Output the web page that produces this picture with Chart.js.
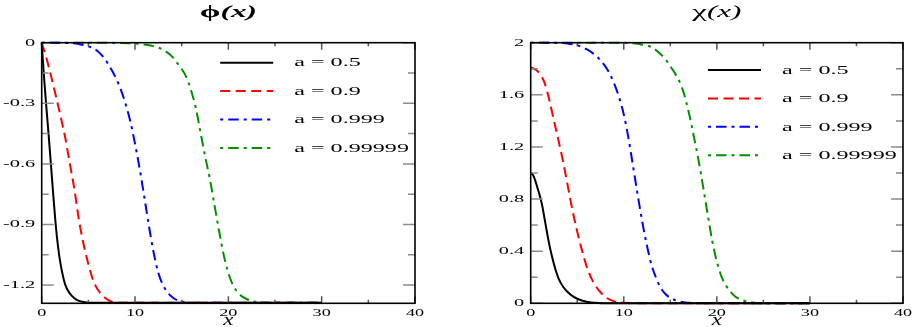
<!DOCTYPE html>
<html>
<head>
<meta charset="utf-8">
<script src="https://cdn.jsdelivr.net/npm/chart.js@4/dist/chart.umd.min.js"></script>
<style>
  html, body { margin: 0; padding: 0; background: #fff; }
  #wrap { position: relative; width: 915px; height: 327px; }
  canvas { position: absolute; top: 0; }
</style>
</head>
<body>
<div id="wrap">
  <canvas id="phi" width="460" height="327" style="left:0"></canvas>
  <canvas id="chi" width="455" height="327" style="left:460px"></canvas>
</div>
<script>
// ---------- data ----------
const seriesLabels = ['a = 0.5', 'a = 0.9', 'a = 0.999', 'a = 0.99999'];

// phi(x)
const phiX05 = [0, 0.25, 0.5, 0.75, 1, 1.25, 1.5, 1.75, 2, 2.5, 3, 3.5, 4, 4.5, 5, 30];
const phiY05 = [0, -0.17, -0.32, -0.46, -0.61, -0.76, -0.9, -1.01, -1.09, -1.195, -1.24, -1.265, -1.278, -1.284, -1.287, -1.287];
const phiX09 = [0, 0.5, 1, 1.5, 2, 2.5, 3, 3.5, 4, 4.5, 5, 5.5, 6, 6.5, 7, 7.5, 8, 30];
const phiY09 = [0, -0.075, -0.165, -0.26, -0.36, -0.465, -0.595, -0.725, -0.88, -1.0, -1.095, -1.175, -1.222, -1.25, -1.27, -1.282, -1.287, -1.287];
const phiX0999 = [0, 3, 4, 5, 6, 6.7, 7.5, 8, 8.5, 9, 9.5, 10, 10.5, 11, 11.5, 12, 12.5, 13, 13.5, 14, 14.5, 15, 16, 30];
const phiY0999 = [0, -0.002, -0.007, -0.018, -0.042, -0.076, -0.135, -0.18, -0.235, -0.305, -0.39, -0.5, -0.625, -0.765, -0.91, -1.04, -1.14, -1.2, -1.237, -1.26, -1.274, -1.282, -1.287, -1.287];
const phiX099999 = [0, 8, 10, 11, 12, 13, 14, 14.5, 15, 15.5, 16, 16.5, 17, 17.5, 18, 18.5, 19, 19.5, 20, 20.5, 21, 21.5, 22, 22.5, 23, 24, 30];
const phiY099999 = [0, -0.001, -0.004, -0.009, -0.017, -0.035, -0.07, -0.1, -0.13, -0.17, -0.235, -0.32, -0.44, -0.56, -0.67, -0.8, -0.93, -1.05, -1.14, -1.2, -1.235, -1.257, -1.27, -1.278, -1.283, -1.287, -1.287];

// chi(x)
const chiX05 = [0, 0.25, 0.5, 0.75, 1, 1.25, 1.5, 1.75, 2, 2.25, 2.5, 2.75, 3, 3.5, 4, 4.5, 5, 6, 7, 8, 30];
const chiY05 = [1.0, 0.985, 0.94, 0.88, 0.82, 0.745, 0.645, 0.545, 0.45, 0.37, 0.3, 0.24, 0.19, 0.125, 0.085, 0.055, 0.035, 0.012, 0.004, 0, 0];
const chiX09 = [0, 0.5, 1, 1.5, 2, 2.5, 3, 3.5, 4, 4.5, 5, 5.5, 6, 6.5, 7, 7.5, 8, 8.5, 9, 10, 11, 30];
const chiY09 = [1.81, 1.795, 1.76, 1.69, 1.56, 1.4, 1.245, 1.08, 0.895, 0.71, 0.55, 0.41, 0.285, 0.195, 0.13, 0.085, 0.05, 0.028, 0.015, 0.004, 0, 0];
const chiX0999 = [0, 3, 4, 5, 6, 7, 8, 8.5, 9, 9.5, 10, 10.5, 11, 11.5, 12, 12.5, 13, 13.5, 14, 14.5, 15, 16, 17, 18, 30];
const chiY0999 = [2.0, 1.998, 1.993, 1.98, 1.95, 1.9, 1.82, 1.76, 1.68, 1.58, 1.45, 1.27, 1.05, 0.83, 0.62, 0.44, 0.29, 0.19, 0.115, 0.07, 0.042, 0.014, 0.004, 0, 0];
const chiX099999 = [0, 10, 11, 12, 13, 14, 14.5, 15, 15.5, 16, 16.5, 17, 17.5, 18, 18.5, 19, 19.5, 20, 20.5, 21, 21.5, 22, 22.5, 23, 24, 25, 30];
const chiY099999 = [2.0, 1.999, 1.995, 1.985, 1.965, 1.91, 1.87, 1.82, 1.765, 1.7, 1.6, 1.46, 1.29, 1.11, 0.905, 0.69, 0.48, 0.32, 0.205, 0.135, 0.085, 0.05, 0.032, 0.018, 0.005, 0, 0];

// ticks
const xMajor = [0, 10, 20, 30, 40];
const xMajorLabels = ['0', '10', '20', '30', '40'];
const xMinor = [5, 15, 25, 35];
const phiMajor = [0, -0.3, -0.6, -0.9, -1.2];
const phiMajorLabels = ['0', '-0.3', '-0.6', '-0.9', '-1.2'];
const phiMinor = [-0.15, -0.45, -0.75, -1.05];
const chiMajor = [0, 0.4, 0.8, 1.2, 1.6, 2];
const chiMajorLabels = ['0', '0.4', '0.8', '1.2', '1.6', '2'];
const chiMinor = [0.2, 0.6, 1.0, 1.4, 1.8];

// ---------- styles ----------
const colors = ['#000000', '#ff0000', '#0000ff', '#009000'];
const dashes = [[], [10, 5.5], [3, 5, 10.5, 5], [3, 5, 10.5, 5]];
const SERIF = '"Liberation Serif", "Times New Roman", serif';

function pts(xs, ys) { return xs.map((x, i) => ({ x: x, y: ys[i] })); }

function makeDatasets(list) {
  return list.map((d, i) => ({
    label: seriesLabels[i],
    data: pts(d[0], d[1]),
    borderColor: colors[i],
    borderWidth: 2,
    borderDash: dashes[i],
    pointRadius: 0,
    fill: false,
    cubicInterpolationMode: 'monotone',
    clip: false
  }));
}

// draw text stretched horizontally
function sText(ctx, str, x, y, font, align, baseline, sx) {
  ctx.save();
  ctx.font = font;
  ctx.textBaseline = baseline;
  ctx.textAlign = 'left';
  const w = ctx.measureText(str).width * sx;
  let x0 = x;
  if (align === 'center') x0 = x - w / 2;
  else if (align === 'right') x0 = x - w;
  ctx.translate(x0, y);
  ctx.scale(sx, 1);
  ctx.fillStyle = '#000';
  ctx.fillText(str, 0, 0);
  ctx.restore();
  return w;
}

function framePlugin(cfg) {
  return {
    id: 'frame',
    afterDatasetsDraw(chart) {
      const ctx = chart.ctx;
      const a = chart.chartArea;
      const xs = chart.scales.x, ys = chart.scales.y;
      ctx.save();
      // y ticks (left & right, inward)
      ctx.lineWidth = 1.5;
      ctx.strokeStyle = '#8c8c8c';
      const yt = (v, len) => {
        const p = ys.getPixelForValue(v);
        ctx.beginPath();
        ctx.moveTo(a.left, p); ctx.lineTo(a.left + len, p);
        ctx.moveTo(a.right, p); ctx.lineTo(a.right - len, p);
        ctx.stroke();
      };
      cfg.yMajor.forEach(v => yt(v, 12));
      cfg.yMinor.forEach(v => yt(v, 7));
      // x ticks (top & bottom, inward)
      ctx.strokeStyle = '#555';
      const xt = (v, len) => {
        const p = xs.getPixelForValue(v);
        ctx.beginPath();
        ctx.moveTo(p, a.bottom); ctx.lineTo(p, a.bottom - len);
        ctx.moveTo(p, a.top); ctx.lineTo(p, a.top + len);
        ctx.stroke();
      };
      xMajor.forEach(v => xt(v, 7));
      xMinor.forEach(v => xt(v, 3.5));
      // frame
      ctx.strokeStyle = '#000';
      ctx.lineWidth = 1.6;
      ctx.strokeRect(a.left, a.top, a.right - a.left, a.bottom - a.top);
      ctx.restore();

      // tick labels
      const tf = '11px ' + SERIF;
      xMajor.forEach((v, i) => sText(ctx, xMajorLabels[i], xs.getPixelForValue(v), a.bottom + 12.5, tf, 'center', 'alphabetic', 1.65));
      cfg.yMajor.forEach((v, i) => sText(ctx, cfg.yLabels[i], a.left - 6.5, ys.getPixelForValue(v), tf, 'right', 'middle', 1.85));

      // title
      const cx = (a.left + a.right) / 2;
      ctx.save();
      const f1 = cfg.titleFont1, f2 = cfg.titleFont2;
      ctx.font = f1; const w1 = ctx.measureText(cfg.titleSym).width;
      ctx.font = f2; const w2 = ctx.measureText('(x)').width;
      const sx = cfg.titleWidth / (w1 + w2);
      const x0 = cx - cfg.titleWidth / 2;
      ctx.restore();
      sText(ctx, cfg.titleSym, x0, 17, f1, 'left', 'alphabetic', sx);
      sText(ctx, '(x)', x0 + w1 * sx, 17, f2, 'left', 'alphabetic', sx);

      // x axis label
      sText(ctx, 'x', cx, 325, 'italic 17px ' + SERIF, 'center', 'alphabetic', 1.35);

      // legend
      chart.data.datasets.forEach((ds, i) => {
        const y = a.top + cfg.legTop + i * 28.4;
        const lx = a.left + cfg.legLeft;
        ctx.save();
        ctx.strokeStyle = ds.borderColor;
        ctx.lineWidth = 2;
        ctx.setLineDash(ds.borderDash);
        ctx.beginPath();
        ctx.moveTo(lx, y); ctx.lineTo(lx + 53, y);
        ctx.stroke();
        ctx.restore();
        sText(ctx, ds.label, lx + 74, y + 0.5, '12.5px ' + SERIF, 'left', 'middle', 1.93);
      });
    }
  };
}

function makeChart(id, datasets, yMin, yMax, padding, cfg) {
  return new Chart(document.getElementById(id), {
    type: 'line',
    data: { datasets: datasets },
    options: {
      responsive: false,
      animation: false,
      events: [],
      layout: { padding: padding },
      plugins: { legend: { display: false }, tooltip: { enabled: false }, title: { display: false } },
      scales: {
        x: { type: 'linear', min: 0, max: 40, display: false },
        y: { type: 'linear', min: yMin, max: yMax, display: false }
      }
    },
    plugins: [framePlugin(cfg)]
  });
}

makeChart('phi',
  makeDatasets([[phiX05, phiY05], [phiX09, phiY09], [phiX0999, phiY0999], [phiX099999, phiY099999]]),
  -1.29, 0,
  { left: 41.7, right: 45, top: 42.7, bottom: 23.7 },
  { yMajor: phiMajor, yMinor: phiMinor, yLabels: phiMajorLabels,
    titleSym: 'ϕ', titleFont1: 'bold 17px ' + SERIF, titleFont2: 'bold italic 16px ' + SERIF, titleWidth: 57,
    legTop: 20, legLeft: 178.5 });

makeChart('chi',
  makeDatasets([[chiX05, chiY05], [chiX09, chiY09], [chiX0999, chiY0999], [chiX099999, chiY099999]]),
  0, 2.0,
  { left: 70.7, right: 12, top: 42.7, bottom: 23.7 },
  { yMajor: chiMajor, yMinor: chiMinor, yLabels: chiMajorLabels,
    titleSym: 'χ', titleFont1: '17px ' + SERIF, titleFont2: 'italic 16px ' + SERIF, titleWidth: 49,
    legTop: 27.3, legLeft: 177.3 });
</script>
</body>
</html>
